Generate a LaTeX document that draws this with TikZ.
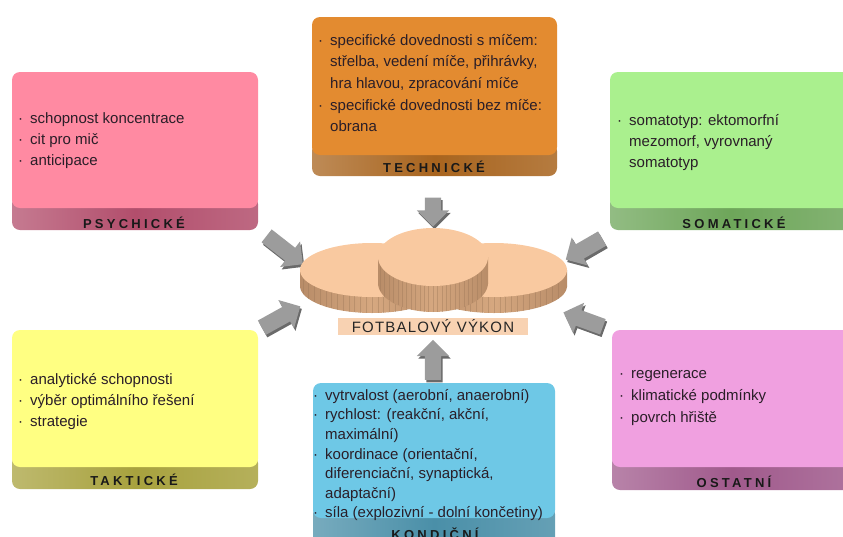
\documentclass[tikz,border=0pt]{standalone}
\usepackage{fontspec}
\setmainfont{Liberation Sans}
\newfontfamily\lblfont[LetterSpace=25]{Liberation Sans}
\newfontfamily\titlefont[LetterSpace=8]{Liberation Sans}
\usetikzlibrary{shapes.arrows}
\definecolor{pinkT}{HTML}{FF8AA2}
\definecolor{pinkB}{HTML}{B24E6C}
\definecolor{oranT}{HTML}{E38B30}
\definecolor{oranB}{HTML}{A8641E}
\definecolor{grnT}{HTML}{AAF08E}
\definecolor{grnB}{HTML}{6EA65A}
\definecolor{yelT}{HTML}{FFFF82}
\definecolor{yelB}{HTML}{A8A23E}
\definecolor{bluT}{HTML}{6EC8E6}
\definecolor{bluB}{HTML}{4A8FA8}
\definecolor{vioT}{HTML}{F0A0E0}
\definecolor{vioB}{HTML}{A05A8C}
\definecolor{coinT}{HTML}{F9C9A0}
\definecolor{coinS}{HTML}{D6A880}
\definecolor{coinD}{HTML}{B88C68}
\definecolor{peach}{HTML}{F8D2B2}
\definecolor{arrG}{HTML}{9C9C9C}
\definecolor{arrD}{HTML}{6A6A6A}
\definecolor{txtc}{HTML}{2A1E28}
\newcommand\bul{\makebox[12pt][l]{·}}
\newcommand\ind{\hspace*{12pt}}
% slab: x1,x2,ytop,yface,ybase,topcolor,basecolor
\newcommand\slab[7]{%
  \shade[rounded corners=8pt, left color=#7!75!white, right color=#7!85!white, middle color=#7] (#1,#4-12) rectangle (#2,#5);
  \fill[#6, rounded corners=8pt] (#1,#3) rectangle (#2,#4);
}
% block arrow: name, x, y, angle, length
\newcommand\blockarr[5]{%
  \node[blk, fill=arrD, rotate=#4, minimum height=#5pt] (#1s) at (#2+1.5,#3+2.5) {};
  \node[blk, fill=arrG, rotate=#4, minimum height=#5pt] (#1) at (#2,#3) {};
}
% coin: cx, cy, rx, ry, h
\newcommand\coin[5]{%
  \shade[left color=coinD, right color=coinD, middle color=coinS] (#1-#3,#2) rectangle (#1+#3,#2+#5);
  \shade[left color=coinD, right color=coinD, middle color=coinS] (#1,#2+#5) ellipse [x radius=#3pt, y radius=#4pt];
  \foreach \t in {-0.96,-0.88,...,0.96}
    \draw[coinD!85!black, line width=0.5pt, opacity=0.4] ({#1+\t*#3},{#2+#4*sqrt(1-\t*\t)}) -- ++(0,#5);
  \fill[coinT] (#1,#2) ellipse [x radius=#3pt, y radius=#4pt];
}
\begin{document}
\begin{tikzpicture}[x=1pt,y=-1pt,
  txt/.style={anchor=north west, inner sep=0pt, align=left, text=txtc},
  lbl/.style={anchor=base, inner sep=0pt, text=black!90, font=\lblfont\bfseries\fontsize{13}{13}\selectfont},
  blk/.style={single arrow, minimum width=32pt, single arrow head extend=8pt, inner xsep=0pt, inner ysep=8pt, single arrow tip angle=90}]
\useasboundingbox (0,0) rectangle (843,536);

% boxes
\slab{12}{258}{72}{208}{230}{pinkT}{pinkB}
\slab{312}{557}{17}{155}{176}{oranT}{oranB}
\slab{610}{852}{72}{208}{230}{grnT}{grnB}
\slab{12}{258}{330}{467}{489}{yelT}{yelB}
\slab{612}{852}{330}{467}{490}{vioT}{vioB}

% arrows
\blockarr{aT}{433}{208}{-90}{29}
\blockarr{aLT}{281.5}{247.5}{-38}{46}
\blockarr{aLB}{277.5}{319}{29}{44}
\blockarr{aRT}{587.5}{247}{-150}{42}
\blockarr{aRB}{587}{321}{160}{42}
\blockarr{aB}{433}{364}{90}{40}

\slab{313}{555}{383}{518}{560}{bluT}{bluB}

% coins
\coin{372}{270}{72}{27}{16}
\coin{494}{270}{73}{27}{16}
\coin{433}{257}{55}{29}{26}

\node[fill=peach, minimum width=190pt, minimum height=17pt, inner sep=0pt, text=black!85] (perf) at (433,326.5)
  {\titlefont\fontsize{15}{15}\selectfont FOTBALOVÝ VÝKON};

% texts
\node[txt, font=\fontsize{15}{21}\selectfont] (psytxt) at (18,108.3)
  {\strut\bul schopnost koncentrace\\ \bul cit pro mič\\ \bul anticipace};
\node[txt, font=\fontsize{15}{21.7}\selectfont] (techtxt) at (318,29.8)
  {\strut\bul specifické dovednosti s míčem:\\ \ind střelba, vedení míče, přihrávky,\\ \ind hra hlavou, zpracování míče\\ \bul specifické dovednosti bez míče:\\ \ind obrana};
\node[txt, font=\fontsize{15}{21}\selectfont] (somtxt) at (617,110.3)
  {\strut\bul somatotyp: ektomorfní\\ \ind mezomorf, vyrovnaný\\ \ind somatotyp};
\node[txt, font=\fontsize{15}{21}\selectfont] (taktxt) at (18,369.3)
  {\strut\bul analytické schopnosti\\ \bul výběr optimálního řešení\\ \bul strategie};
\node[txt, font=\fontsize{15}{22}\selectfont] (osttxt) at (619,362.6)
  {\strut\bul regenerace\\ \bul klimatické podmínky\\ \bul povrch hřiště};
\node[txt, font=\fontsize{15}{19.6}\selectfont] (kontxt) at (313,386.3)
  {\strut\bul vytrvalost (aerobní, anaerobní)\\ \bul rychlost: (reakční, akční,\\ \ind maximální)\\ \bul koordinace (orientační,\\ \ind diferenciační, synaptická,\\ \ind adaptační)\\ \bul síla (explozivní - dolní končetiny)};

% labels
\node[lbl] (psy) at (134,228) {PSYCHICKÉ};
\node[lbl] (tech) at (434,172) {TECHNICKÉ};
\node[lbl] (som) at (734,228) {SOMATICKÉ};
\node[lbl] (tak) at (134,485) {TAKTICKÉ};
\node[lbl] (ost) at (734,487) {OSTATNÍ};
\node[lbl] (kon) at (435,539) {KONDIČNÍ};
\end{tikzpicture}
\end{document}
